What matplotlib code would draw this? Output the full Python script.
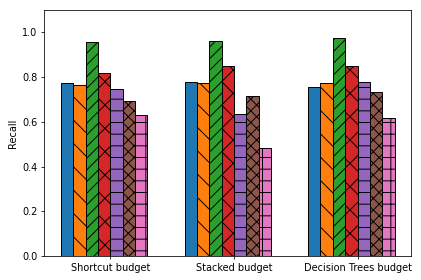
import matplotlib
matplotlib.use("Agg")
import matplotlib.pyplot as plt
import numpy as np

categories = ["Shortcut budget", "Stacked budget", "Decision Trees budget"]
series = [
    [0.773, 0.778, 0.755],
    [0.764, 0.773, 0.775],
    [0.957, 0.961, 0.976],
    [0.818, 0.849, 0.849],
    [0.745, 0.634, 0.778],
    [0.693, 0.715, 0.733],
    [0.630, 0.482, 0.617],
]
colors = ["#1f77b4", "#ff7f0e", "#2ca02c", "#d62728", "#9467bd", "#8c564b", "#e377c2"]
hatches = ["", "\\", "//", "x", "-", "xx", "+"]

fig = plt.figure(figsize=(421 / 70, 280 / 70), dpi=70)
ax = fig.add_axes([44.3 / 421, 1 - 256 / 280, (411.3 - 44.3) / 421, (256 - 10) / 280])
x = np.arange(len(categories))
w = 0.1
for i, vals in enumerate(series):
    ax.bar(x + (i - 3.5) * w, vals, w, color=colors[i], edgecolor="black",
           hatch=hatches[i], linewidth=1)
ax.set_xticks(x)
ax.set_xticklabels(categories)
ax.set_ylim(0, 1.1)
ax.set_ylabel("Recall")
fig.savefig("out.png", dpi=70)
